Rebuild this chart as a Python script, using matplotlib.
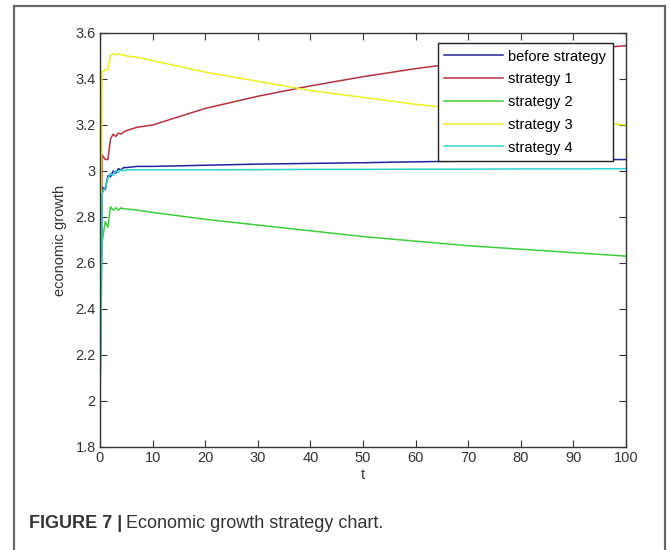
import matplotlib
matplotlib.use("Agg")
import matplotlib.pyplot as plt
from matplotlib.patches import Rectangle
from matplotlib.ticker import FuncFormatter

plt.rcParams['font.family'] = ['Liberation Sans', 'DejaVu Sans']

# time points of the simulation output
t = [0, 0.4, 1, 1.5, 2, 2.5, 3, 3.5, 4, 4.5, 5, 7, 10,
     20, 30, 40, 50, 60, 70, 80, 90, 100]

before_strategy = [2.0, 2.93, 2.92, 2.98, 2.975, 3.0, 2.99, 3.01, 3.005, 3.015, 3.015, 3.02, 3.02,
                   3.025, 3.03, 3.033, 3.036, 3.04, 3.043, 3.046, 3.048, 3.05]
strategy_1 = [2.0, 3.07, 3.05, 3.05, 3.14, 3.16, 3.15, 3.165, 3.16, 3.17, 3.175, 3.19, 3.20,
              3.272, 3.325, 3.37, 3.41, 3.445, 3.475, 3.50, 3.525, 3.545]
strategy_2 = [2.0, 2.69, 2.78, 2.755, 2.845, 2.83, 2.84, 2.83, 2.84, 2.835, 2.835, 2.83, 2.82,
              2.79, 2.765, 2.74, 2.715, 2.695, 2.675, 2.66, 2.645, 2.63]
strategy_3 = [2.0, 3.43, 3.44, 3.44, 3.50, 3.51, 3.505, 3.51, 3.505, 3.505, 3.50, 3.495, 3.48,
              3.43, 3.39, 3.35, 3.32, 3.29, 3.265, 3.24, 3.22, 3.20]
strategy_4 = [2.0, 2.90, 2.93, 2.97, 2.99, 2.98, 3.0, 2.995, 3.005, 3.0, 3.005, 3.005, 3.005,
              3.005, 3.006, 3.007, 3.007, 3.008, 3.008, 3.009, 3.009, 3.01]

series = [before_strategy, strategy_1, strategy_2, strategy_3, strategy_4]
labels = ["before strategy", "strategy 1", "strategy 2", "strategy 3", "strategy 4"]
colors = ["#23239a", "#b8323c", "#3ccf3c", "#eeee22", "#2ad4d4"]

x_ticks = list(range(0, 101, 10))
y_ticks = [1.8, 2.0, 2.2, 2.4, 2.6, 2.8, 3.0, 3.2, 3.4, 3.6]

fig = plt.figure(figsize=(6.7, 5.5), dpi=100)
ax = fig.add_axes([100 / 670, 1 - 447 / 550, 526 / 670, 414 / 550])

for vals, lab, col in zip(series, labels, colors):
    ax.plot(t, vals, color=col, lw=1.1, label=lab)

ax.set_xlim(0, 100)
ax.set_ylim(1.8, 3.6)
ax.set_xticks(x_ticks)
ax.set_yticks(y_ticks)
# matlab style labels: drop trailing zeros
ax.yaxis.set_major_formatter(FuncFormatter(lambda v, p: ("%.1f" % v).rstrip("0").rstrip(".")))
ax.tick_params(direction="in", top=True, right=True, length=5, width=0.8,
               labelsize=10.5, colors="#333333", pad=3)
for sp in ax.spines.values():
    sp.set_color("#333333")
    sp.set_linewidth(1.0)

ax.set_xlabel("t", fontsize=10.5, color="#333333", labelpad=2)
ax.set_ylabel("economic growth", fontsize=10.5, color="#333333", labelpad=6)

leg = ax.legend(loc="upper right", bbox_to_anchor=(1 - 13 / 526, 1 - 10 / 414),
                borderaxespad=0, fancybox=False, framealpha=1, edgecolor="#222222",
                fontsize=10.5, handlelength=4.0, handletextpad=0.4,
                labelspacing=0.6, borderpad=0.45)
leg.get_frame().set_linewidth(1.0)

# outer frame around the figure panel
fig.add_artist(Rectangle((14 / 670, -0.05), 651 / 670, 1.05 - 6 / 550,
                         transform=fig.transFigure, fill=False,
                         edgecolor="#666666", lw=1.6, clip_on=False))

# caption
cap_y = 1 - 523 / 550
bold = fig.text(29 / 670, cap_y, "FIGURE 7 |", fontsize=13, fontweight="bold",
                color="#333333", va="center")
fig.canvas.draw()
bb = bold.get_window_extent()
fig.text((bb.x1 + 4) / 670, cap_y, "Economic growth strategy chart.", fontsize=13,
         color="#333333", va="center")

fig.savefig("out.png", dpi=100)
